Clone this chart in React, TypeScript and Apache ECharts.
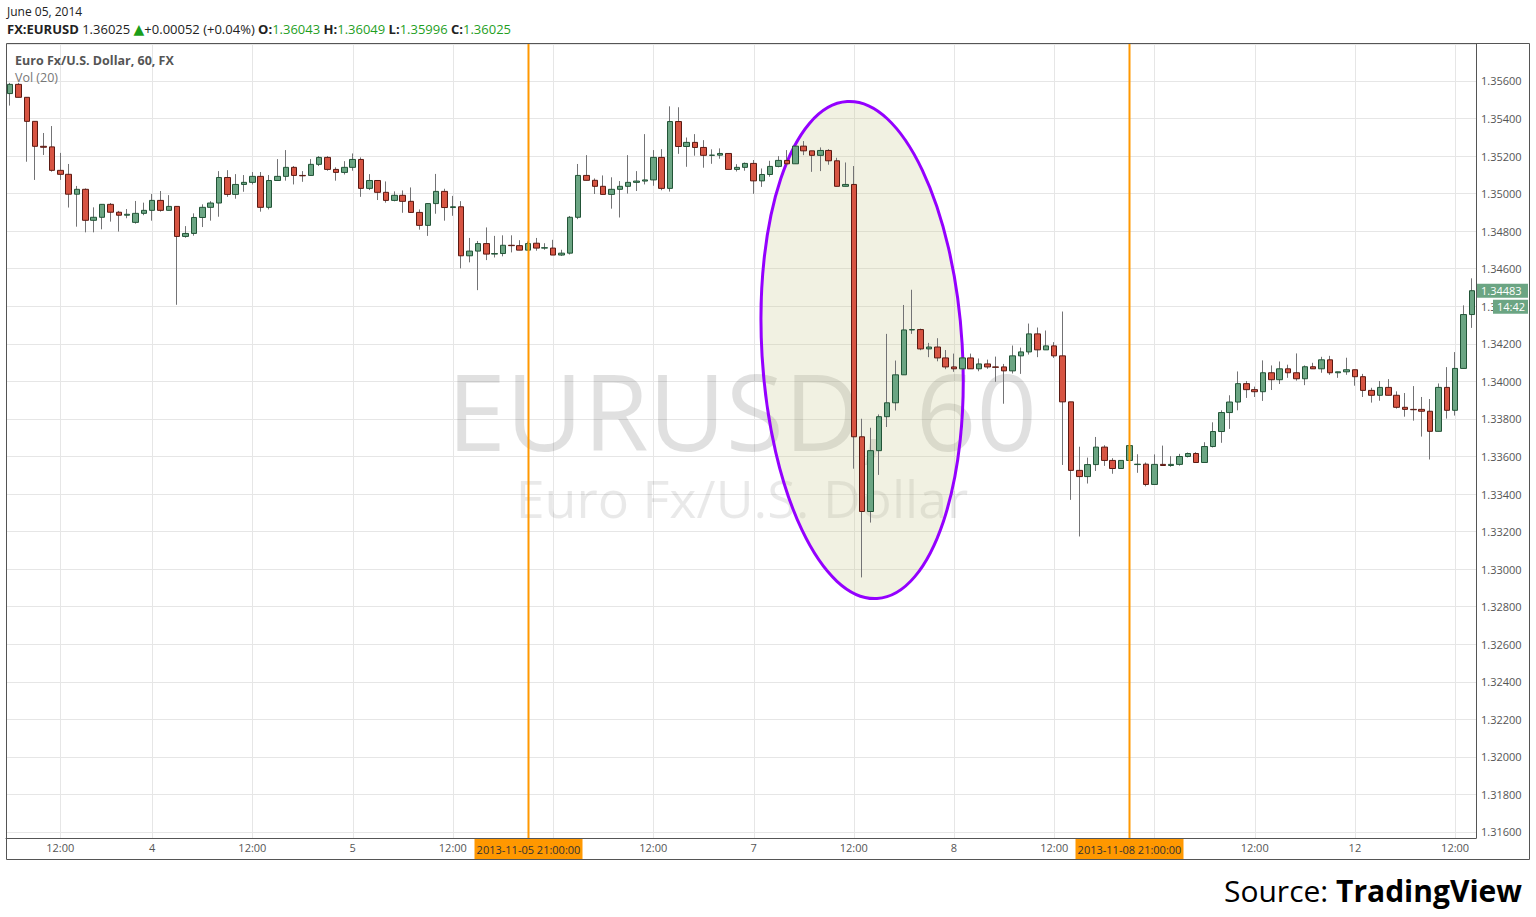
import React, { useEffect, useRef } from "react";
import * as echarts from "echarts";

// ---- trading sessions (hourly candles, weekend gap removed) ----
const sessions = [
  { day: "2013-11-01", from: 6, to: 20 },
  { day: "2013-11-03", from: 22, to: 23 },
  { day: "2013-11-04", from: 0, to: 23 },
  { day: "2013-11-05", from: 0, to: 23 },
  { day: "2013-11-06", from: 0, to: 23 },
  { day: "2013-11-07", from: 0, to: 23 },
  { day: "2013-11-08", from: 0, to: 21 },
  { day: "2013-11-10", from: 22, to: 23 },
  { day: "2013-11-11", from: 0, to: 23 },
  { day: "2013-11-12", from: 0, to: 14 },
];

const categories: string[] = [];
sessions.forEach((s) => {
  for (let h = s.from; h <= s.to; h++) categories.push(`${s.day} ${String(h).padStart(2, "0")}:00`);
});

const opens = [
  1.35533, 1.35582, 1.35513, 1.35385, 1.35252, 1.35249, 1.35124, 1.35103, 1.34997, 1.35023,
  1.34858, 1.34874, 1.34943, 1.34901, 1.34885, 1.34847, 1.34895, 1.34911, 1.34964, 1.34911,
  1.34932, 1.34772, 1.34788, 1.34873, 1.34927, 1.3495, 1.35086, 1.34996, 1.35049, 1.3506,
  1.35092, 1.34927, 1.3507, 1.35092, 1.3514, 1.35097, 1.35097, 1.35156, 1.35193, 1.35129,
  1.35113, 1.3514, 1.35182, 1.35028, 1.3507, 1.35007, 1.34964, 1.34991, 1.34959, 1.349,
  1.34831, 1.34947, 1.35012, 1.34926, 1.3493, 1.34669, 1.34694, 1.34734, 1.34678, 1.34681,
  1.34725, 1.34723, 1.34699, 1.34736, 1.3471, 1.3471, 1.34673, 1.34683, 1.34874, 1.35097,
  1.35071, 1.35039, 1.34996, 1.35023, 1.35039, 1.3506, 1.35067, 1.35073, 1.35193, 1.35028,
  1.35384, 1.35251, 1.35273, 1.35246, 1.35204, 1.35205, 1.35214, 1.35129, 1.3514, 1.35161,
  1.35068, 1.35102, 1.35145, 1.35177, 1.35159, 1.35253, 1.35228, 1.35204, 1.3523, 1.35175,
  1.35039, 1.35049, 1.33705, 1.33307, 1.33631, 1.33812, 1.33886, 1.34035, 1.34274, 1.34276,
  1.34173, 1.34183, 1.34125, 1.34077, 1.34067, 1.34125, 1.34067, 1.34093, 1.34077, 1.34077,
  1.34056, 1.34136, 1.34157, 1.34253, 1.34168, 1.34189, 1.34136, 1.33891, 1.33526, 1.33493,
  1.33557, 1.3365, 1.33579, 1.33536, 1.33579, 1.33557, 1.33559, 1.33451, 1.33558, 1.33552,
  1.33558, 1.336, 1.33616, 1.33568, 1.33653, 1.33733, 1.33834, 1.3389, 1.33988, 1.33956,
  1.33945, 1.34046, 1.34009, 1.34067, 1.34046, 1.34014, 1.34078, 1.34067, 1.34115, 1.34046,
  1.34051, 1.34062, 1.34025, 1.33952, 1.33926, 1.33968, 1.33926, 1.33862, 1.33851, 1.33851,
  1.33841, 1.33734, 1.33968, 1.33846, 1.34069, 1.34356,
];

const closes = [
  1.35582, 1.35513, 1.35385, 1.35252, 1.35247, 1.35124, 1.35103, 1.34997, 1.35023, 1.34858,
  1.34874, 1.34943, 1.34901, 1.34885, 1.3489, 1.34895, 1.34911, 1.34964, 1.34911, 1.34932,
  1.34772, 1.34788, 1.34873, 1.34927, 1.3495, 1.35086, 1.34996, 1.35049, 1.3506, 1.35092,
  1.34927, 1.3507, 1.35092, 1.3514, 1.35097, 1.35095, 1.35156, 1.35193, 1.35129, 1.35113,
  1.3514, 1.35182, 1.35028, 1.3507, 1.35007, 1.34964, 1.34991, 1.34959, 1.349, 1.34831,
  1.34947, 1.35012, 1.34926, 1.3493, 1.34669, 1.34694, 1.34734, 1.34678, 1.34681, 1.34725,
  1.34723, 1.34699, 1.34734, 1.3471, 1.34712, 1.34673, 1.34683, 1.34874, 1.35097, 1.35071,
  1.35039, 1.34996, 1.35023, 1.35039, 1.3506, 1.35067, 1.35073, 1.35193, 1.35028, 1.35384,
  1.35251, 1.35273, 1.35246, 1.35204, 1.35205, 1.35214, 1.35129, 1.3514, 1.35161, 1.35068,
  1.35102, 1.35145, 1.35177, 1.35159, 1.35253, 1.35228, 1.35204, 1.3523, 1.35175, 1.35039,
  1.35049, 1.33705, 1.33307, 1.33631, 1.33812, 1.33886, 1.34035, 1.34274, 1.34276, 1.34173,
  1.34183, 1.34125, 1.34077, 1.34067, 1.34125, 1.34067, 1.34093, 1.34077, 1.34075, 1.34056,
  1.34136, 1.34157, 1.34253, 1.34168, 1.34189, 1.34136, 1.33891, 1.33526, 1.33493, 1.33557,
  1.3365, 1.33579, 1.33536, 1.33579, 1.33658, 1.33559, 1.33451, 1.33558, 1.33552, 1.33558,
  1.336, 1.33616, 1.33568, 1.33653, 1.33733, 1.33834, 1.3389, 1.33988, 1.33956, 1.33945,
  1.34046, 1.34009, 1.34067, 1.34046, 1.34014, 1.34078, 1.34067, 1.34115, 1.34046, 1.34051,
  1.34062, 1.34025, 1.33952, 1.33926, 1.33968, 1.33926, 1.33862, 1.33851, 1.33849, 1.33841,
  1.33734, 1.33968, 1.33846, 1.34069, 1.34356, 1.34483,
];

const highs = [
  1.3559, 1.3559, 1.35513, 1.35385, 1.35323, 1.3536, 1.35217, 1.35158, 1.35041, 1.35028,
  1.34927, 1.34943, 1.3495, 1.34908, 1.34918, 1.34961, 1.34952, 1.34998, 1.35014, 1.34992,
  1.34932, 1.34827, 1.34895, 1.34943, 1.3496, 1.3512, 1.35125, 1.35104, 1.35099, 1.35115,
  1.35115, 1.35099, 1.35184, 1.35232, 1.35147, 1.3512, 1.35184, 1.352, 1.352, 1.3514,
  1.35173, 1.35214, 1.35193, 1.35104, 1.3507, 1.35065, 1.35012, 1.35017, 1.35033, 1.34916,
  1.3495, 1.35105, 1.35026, 1.34988, 1.3496, 1.34764, 1.34748, 1.3482, 1.34775, 1.34778,
  1.34778, 1.34752, 1.34745, 1.34764, 1.34736, 1.34754, 1.34701, 1.34881, 1.35158, 1.35205,
  1.35081, 1.35097, 1.35087, 1.35067, 1.35205, 1.3512, 1.35317, 1.35232, 1.35237, 1.35465,
  1.3546, 1.35299, 1.35317, 1.35285, 1.35236, 1.35241, 1.35214, 1.35157, 1.35166, 1.35179,
  1.35134, 1.35175, 1.352, 1.35232, 1.35253, 1.3528, 1.35228, 1.35246, 1.35237, 1.35191,
  1.35166, 1.35147, 1.33801, 1.33753, 1.33824, 1.34253, 1.34111, 1.34407, 1.34488, 1.34281,
  1.34205, 1.3423, 1.34167, 1.34148, 1.3413, 1.34148, 1.34122, 1.34116, 1.34132, 1.34093,
  1.34191, 1.3418, 1.34308, 1.34287, 1.34271, 1.34209, 1.34372, 1.33891, 1.33652, 1.33594,
  1.33704, 1.3366, 1.33591, 1.33579, 1.33665, 1.33612, 1.33568, 1.33611, 1.33658, 1.33602,
  1.33614, 1.33621, 1.33623, 1.33676, 1.33782, 1.33846, 1.33926, 1.34053, 1.34002, 1.33972,
  1.34112, 1.34085, 1.34106, 1.34089, 1.34149, 1.34085, 1.34099, 1.34131, 1.34136, 1.34051,
  1.34126, 1.34062, 1.3404, 1.33966, 1.34002, 1.34012, 1.33947, 1.33938, 1.33975, 1.33917,
  1.33906, 1.33989, 1.34076, 1.34156, 1.34405, 1.34549,
];

const lows = [
  1.35469, 1.35513, 1.3517, 1.35073, 1.35206, 1.35117, 1.35073, 1.34926, 1.34824, 1.34794,
  1.34794, 1.3481, 1.34851, 1.34798, 1.34869, 1.3484, 1.34885, 1.34856, 1.34904, 1.34911,
  1.34408, 1.34765, 1.34776, 1.34822, 1.34856, 1.34877, 1.34983, 1.34973, 1.3501, 1.35049,
  1.34904, 1.34916, 1.3507, 1.35069, 1.35049, 1.35063, 1.35097, 1.35147, 1.35122, 1.35069,
  1.35102, 1.35122, 1.34983, 1.35019, 1.34966, 1.34952, 1.34959, 1.34898, 1.34898, 1.34808,
  1.34775, 1.34893, 1.34856, 1.34882, 1.34602, 1.34634, 1.34486, 1.34646, 1.3466, 1.34666,
  1.34687, 1.34699, 1.34699, 1.34696, 1.34701, 1.34673, 1.34668, 1.34676, 1.34864, 1.35071,
  1.34998, 1.34996, 1.3492, 1.34873, 1.35, 1.35014, 1.35049, 1.35042, 1.35018, 1.35011,
  1.35212, 1.35143, 1.35202, 1.35138, 1.35159, 1.35186, 1.35129, 1.35118, 1.35122, 1.34999,
  1.35036, 1.3509, 1.3514, 1.3515, 1.35159, 1.35205, 1.35116, 1.3512, 1.35154, 1.35039,
  1.35039, 1.33535, 1.32956, 1.33248, 1.33502, 1.33757, 1.33845, 1.34035, 1.34253, 1.34166,
  1.34129, 1.34107, 1.34065, 1.34051, 1.3406, 1.34067, 1.34054, 1.34067, 1.33998, 1.33881,
  1.34042, 1.3404, 1.34143, 1.34129, 1.34168, 1.34125, 1.33555, 1.33369, 1.33174, 1.33456,
  1.33523, 1.3355, 1.33508, 1.33536, 1.33579, 1.33513, 1.33441, 1.33451, 1.33552, 1.33545,
  1.33551, 1.33595, 1.33568, 1.33568, 1.33648, 1.33673, 1.33747, 1.33846, 1.33912, 1.33917,
  1.33896, 1.33954, 1.33986, 1.34019, 1.34004, 1.3398, 1.34067, 1.34046, 1.34035, 1.34019,
  1.34035, 1.33977, 1.33917, 1.33887, 1.33897, 1.33926, 1.33855, 1.33812, 1.33791, 1.33706,
  1.33584, 1.33734, 1.33802, 1.33818, 1.34069, 1.34285,
];

// ---- annotations ----
const markedBars = ["2013-11-05 21:00", "2013-11-08 21:00"];
const lastPrice = 1.34483;
const lastTimeText = "14:42";
const highlight = { centerBar: "2013-11-07 13:00", centerPrice: 1.34167, halfBars: 12.1, halfPrice: 0.01326 };

const Y_MIN = 1.31568;
const Y_MAX = 1.35797;

const UP = "#6ba583";
const UP_B = "#225437";
const DOWN = "#d75442";
const DOWN_B = "#5b1a13";
const WICK = "#737375";
const FONT = "'Open Sans', 'DejaVu Sans', sans-serif";

const hourOf = (c: string) => parseInt(c.slice(11, 13), 10);
const isGridBar = (c: string) => hourOf(c) === 0 || hourOf(c) === 12;
// day labels hidden under the marker boxes
const coveredDays = ["2013-11-06 00:00", "2013-11-11 00:00"];
const isLabelBar = (c: string) => isGridBar(c) && coveredDays.indexOf(c) < 0;

export default function App() {
  const ref = useRef<HTMLDivElement>(null);

  useEffect(() => {
    if (!ref.current) return;
    const chart = echarts.init(ref.current, null, { renderer: "svg" });

    const wickData = categories.map((_, i) => [opens[i], closes[i], lows[i], highs[i]]);
    const bodyData = categories.map((_, i) => [
      opens[i],
      closes[i],
      Math.min(opens[i], closes[i]),
      Math.max(opens[i], closes[i]),
    ]);

    chart.setOption({
      animation: false,
      backgroundColor: "#ffffff",
      textStyle: { fontFamily: FONT },
      grid: { left: 6, right: 60, top: 44, bottom: 79, containLabel: false },
      xAxis: {
        type: "category",
        data: categories,
        boundaryGap: true,
        axisLine: { show: true, lineStyle: { color: "#555555", width: 1 } },
        axisTick: { show: false },
        splitLine: { show: false },
        axisLabel: {
          interval: (_i: number, v: string) => isLabelBar(v),
          formatter: (v: string) => (hourOf(v) === 12 ? "12:00" : String(parseInt(v.slice(8, 10), 10))),
          color: "#555555",
          fontSize: 11,
          margin: 4,
          fontFamily: FONT,
        },
      },
      yAxis: {
        type: "value",
        position: "right",
        min: Y_MIN,
        max: Y_MAX,
        splitNumber: 21,
        scale: true,
        axisLine: { show: true, lineStyle: { color: "#555555", width: 1 } },
        axisTick: { show: false },
        splitLine: { show: true, lineStyle: { color: "#e6e6e6", width: 1 } },
        axisLabel: {
          showMinLabel: false,
          showMaxLabel: false,
          formatter: (v: number) => v.toFixed(5),
          color: "#555555",
          fontSize: 11,
          margin: 5,
          padding: [0, 0, 5, 0],
          fontFamily: FONT,
        },
      },
      series: [
        {
          type: "candlestick",
          name: "wicks",
          data: wickData,
          barWidth: 1,
          silent: true,
          z: 3,
          itemStyle: { color: WICK, color0: WICK, borderColor: WICK, borderColor0: WICK, borderWidth: 1 },
        },
        {
          type: "candlestick",
          name: "EURUSD",
          data: bodyData,
          barWidth: 6,
          z: 4,
          itemStyle: { color: UP, color0: DOWN, borderColor: UP_B, borderColor0: DOWN_B, borderWidth: 1 },
        },
      ],
    });

    const xp = (i: number) => chart.convertToPixel({ xAxisIndex: 0 }, i) as number;
    const yp = (v: number) => chart.convertToPixel({ yAxisIndex: 0 }, v) as number;
    const top = yp(Y_MAX);
    const bottom = yp(Y_MIN);

    const g: any[] = [];

    // vertical grid lines every 12 hours
    categories.forEach((c, i) => {
      if (!isGridBar(c)) return;
      const x = Math.round(xp(i)) + 0.5;
      g.push({ type: "line", silent: true, z: 0, shape: { x1: x, y1: top, x2: x, y2: bottom }, style: { stroke: "#e6e6e6", lineWidth: 1 } });
    });

    // watermark
    g.push({
      type: "text", silent: true, z: 1,
      style: { x: 742, y: 410, text: "EURUSD, 60", align: "center", verticalAlign: "middle", font: `106px ${FONT}`, lineHeight: 82, fill: "rgba(0,0,0,0.12)" },
    });
    g.push({
      type: "text", silent: true, z: 1,
      style: { x: 742, y: 497, text: "Euro Fx/U.S. Dollar", align: "center", verticalAlign: "middle", font: `52px ${FONT}`, lineHeight: 42, fill: "rgba(0,0,0,0.085)" },
    });

    // highlighted ellipse (in data units)
    const ci = categories.indexOf(highlight.centerBar);
    const cx = xp(ci);
    const cy = yp(highlight.centerPrice);
    const rx = xp(ci + highlight.halfBars) - cx;
    const ry = yp(highlight.centerPrice - highlight.halfPrice) - cy;
    g.push({
      type: "ellipse", silent: true, z: 2, x: cx, y: cy, rotation: 0.06,
      shape: { cx: 0, cy: 0, rx, ry },
      style: { fill: "rgba(200,200,140,0.25)", stroke: "#9400ff", lineWidth: 3 },
    });

    // orange marker lines and labels
    markedBars.forEach((c) => {
      const i = categories.indexOf(c);
      const x = Math.round(xp(i)) + 0.5;
      g.push({ type: "line", silent: true, z: 20, shape: { x1: x, y1: top, x2: x, y2: bottom }, style: { stroke: "#ff9800", lineWidth: 2 } });
      g.push({ type: "rect", silent: true, z: 21, shape: { x: x - 54, y: bottom + 1, width: 108, height: 21 }, style: { fill: "#ff9800" } });
      g.push({
        type: "text", silent: true, z: 22,
        style: { x, y: bottom + 11.5, text: `${c}:00`, align: "center", verticalAlign: "middle", font: `11px ${FONT}`, fill: "#333333" },
      });
    });

    // last price / time boxes on the price scale
    const ly = yp(lastPrice);
    const right = xp(categories.length - 1) + 8.35 / 2;
    g.push({ type: "rect", silent: true, z: 21, shape: { x: right + 1, y: ly - 7, width: 51, height: 14 }, style: { fill: UP } });
    g.push({
      type: "text", silent: true, z: 22,
      style: { x: right + 5, y: ly, text: lastPrice.toFixed(5), align: "left", verticalAlign: "middle", font: `11px ${FONT}`, fill: "#ffffff" },
    });
    g.push({ type: "rect", silent: true, z: 21, shape: { x: right + 17, y: ly + 9, width: 35, height: 14 }, style: { fill: UP } });
    g.push({
      type: "text", silent: true, z: 22,
      style: { x: right + 21, y: ly + 16, text: lastTimeText, align: "left", verticalAlign: "middle", font: `11px ${FONT}`, fill: "#ffffff" },
    });

    // outer frame
    g.push({ type: "rect", silent: true, z: 30, shape: { x: 6.5, y: 43.5, width: 1523, height: 816 }, style: { fill: "none", stroke: "#555555", lineWidth: 1 } });

    // header texts
    g.push({
      type: "text", silent: true, z: 30,
      style: { x: 7, y: 11, text: "June 05, 2014", verticalAlign: "middle", font: `12px ${FONT}`, fill: "#222222" },
    });
    g.push({
      type: "text", silent: true, z: 30,
      style: {
        x: 7, y: 29, verticalAlign: "middle",
        text: "{b|FX:EURUSD} {n|1.36025} {t|▲}{n|+0.00052 (+0.04%)} {b|O:}{v|1.36043} {b|H:}{v|1.36049} {b|L:}{v|1.35996} {b|C:}{v|1.36025}",
        font: `13px ${FONT}`,
        fill: "#222222",
        rich: {
          b: { fontWeight: "bold", fontSize: 13, fontFamily: FONT, fill: "#222222" },
          n: { fontSize: 13, fontFamily: FONT, fill: "#222222" },
          t: { fontSize: 14, fontFamily: "'DejaVu Sans', sans-serif", fill: "#1a9e1a" },
          v: { fontSize: 13, fontFamily: FONT, fill: "#1fa01f" },
        },
      },
    });
    g.push({
      type: "text", silent: true, z: 30,
      style: { x: 15, y: 60, text: "Euro Fx/U.S. Dollar, 60, FX", verticalAlign: "middle", font: `bold 12.5px ${FONT}`, fill: "#555555" },
    });
    g.push({
      type: "text", silent: true, z: 30,
      style: { x: 15, y: 77, text: "Vol (20)", verticalAlign: "middle", font: `12.5px ${FONT}`, fill: "#777777" },
    });

    // source
    g.push({
      type: "text", silent: true, z: 30,
      style: {
        x: 1522, y: 890, align: "right", verticalAlign: "middle",
        text: "{r|Source: }{k|TradingView}",
        rich: {
          r: { fontSize: 30, fontFamily: FONT, fill: "#000000" },
          k: { fontSize: 30, fontFamily: FONT, fontWeight: "bold", fill: "#000000" },
        },
      },
    });

    chart.setOption({ graphic: g });

    return () => chart.dispose();
  }, []);

  return (
    <div
      ref={ref}
      style={{ position: "fixed", left: 0, top: 0, width: 1536, height: 917, background: "#ffffff" }}
    />
  );
}
